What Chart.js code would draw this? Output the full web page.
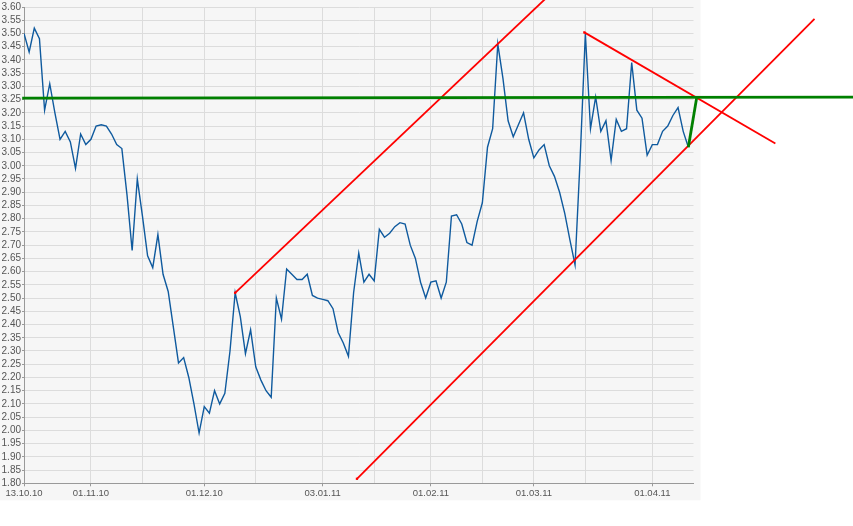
<!DOCTYPE html>
<html>
<head>
<meta charset="utf-8">
<title>Kursverlauf</title>
<script src="https://cdn.jsdelivr.net/npm/chart.js@4.4.1/dist/chart.umd.min.js"></script>
<style>
  html, body { margin: 0; padding: 0; background: #ffffff; }
  #wrap { width: 853px; height: 526px; }
</style>
</head>
<body>
<div id="wrap"><canvas id="priceChart" width="853" height="526"></canvas></div>
<script>
/*
  Price history 13.10.10 - 13.04.11 (one point per trading day)
  with hand drawn trend lines on top.
*/

// closing prices, index = trading day
const prices = [
  3.50, 3.43, 3.52, 3.48, 3.21, 3.31, 3.20, 3.10, 3.13, 3.09,
  2.99, 3.12, 3.08, 3.10, 3.15, 3.155, 3.15, 3.12, 3.08, 3.065,
  2.89, 2.68, 2.95, 2.81, 2.66, 2.615, 2.74, 2.59, 2.525, 2.39,
  2.255, 2.275, 2.20, 2.10, 1.99, 2.09, 2.065, 2.15, 2.10, 2.14,
  2.30, 2.52, 2.43, 2.29, 2.38, 2.24, 2.19, 2.15, 2.125, 2.50,
  2.42, 2.61, 2.59, 2.57, 2.57, 2.59, 2.51, 2.50, 2.495, 2.49,
  2.46, 2.37, 2.33, 2.28, 2.52, 2.67, 2.56, 2.59, 2.565, 2.76,
  2.73, 2.745, 2.77, 2.785, 2.78, 2.70, 2.65, 2.56, 2.50, 2.56,
  2.565, 2.50, 2.56, 2.81, 2.815, 2.78, 2.71, 2.70, 2.79, 2.86,
  3.07, 3.14, 3.46, 3.33, 3.17, 3.11, 3.155, 3.20, 3.10, 3.03,
  3.06, 3.08, 3.00, 2.96, 2.90, 2.82, 2.72, 2.625, 3.03, 3.50,
  3.14, 3.26, 3.13, 3.17, 3.02, 3.175, 3.13, 3.14, 3.39, 3.21,
  3.18, 3.04, 3.08, 3.08, 3.13, 3.15, 3.19, 3.22, 3.13, 3.07
];

// labelled dates (trading day index -> label)
const tickIdx    = [0, 13, 35, 58, 79, 99, 122];
const tickLabels = ["13.10.10", "01.11.10", "01.12.10", "03.01.11", "01.02.11", "01.03.11", "01.04.11"];
// unlabelled mid-month grid lines
const midIdx = [23, 45, 68, 89, 109];

// trend lines: [trading day, price] end points
const upperTrend = [[41, 2.52], [102, 3.645]];
const lowerTrend = [[64.65, 1.817], [153.5, 3.555]];
const fallTrend  = [[108.8, 3.504], [145.9, 3.084]];
const levelLine  = [[-0.35, 3.2555], [161.1, 3.2595]];
const jumpLine   = [[129, 3.07], [130.6, 3.255]];

const yMin = 1.80, yMax = 3.60, yStep = 0.05;
const xMax = 130;

function toXY(arr) {
  return arr.map(p => ({ x: p[0], y: p[1] }));
}

function trend(points, color, width, marker) {
  return {
    data: toXY(points),
    borderColor: color,
    backgroundColor: color,
    borderWidth: width,
    pointRadius: marker ? 1.6 : 0,
    pointStyle: "rect",
    pointBorderWidth: 0,
    clip: false,
    order: 2
  };
}

const panelBackground = {
  id: "panelBackground",
  beforeDraw(chart) {
    const a = chart.chartArea;
    const ctx = chart.ctx;
    ctx.save();
    ctx.fillStyle = "#f6f6f6";
    ctx.fillRect(0, 0, a.right + 7, a.bottom + 17);
    ctx.restore();
  }
};

const green = { order: 1 };

new Chart(document.getElementById("priceChart"), {
  type: "line",
  data: {
    datasets: [
      {
        data: prices.map((v, i) => ({ x: i, y: v })),
        borderColor: "#0f5a9e",
        borderWidth: 1.4,
        pointRadius: 0,
        tension: 0,
        order: 3
      },
      trend(upperTrend, "#ff0000", 1.8, true),
      trend(lowerTrend, "#ff0000", 1.8, true),
      trend(fallTrend, "#ff0000", 1.8, true),
      Object.assign(trend(levelLine, "#008000", 2.8, false), green),
      Object.assign(trend(jumpLine, "#008000", 2.8, false), green)
    ]
  },
  options: {
    responsive: false,
    animation: false,
    layout: { padding: { left: 0, right: 159.5, top: 6, bottom: 25.7 } },
    plugins: {
      legend: { display: false },
      tooltip: { enabled: false }
    },
    scales: {
      x: {
        type: "linear",
        min: 0,
        max: xMax,
        afterBuildTicks: function(axis) {
          axis.ticks = tickIdx.concat(midIdx).sort((a, b) => a - b).map(v => ({ value: v }));
        },
        afterFit: function(axis) { axis.height = 17; },
        ticks: {
          autoSkip: false,
          maxRotation: 0,
          padding: 1,
          color: "#555555",
          font: { family: "'Liberation Sans', Arial, sans-serif", size: 9.5 },
          callback: function(value) {
            const k = tickIdx.indexOf(value);
            return k >= 0 ? tickLabels[k] : "";
          }
        },
        grid: {
          color: "#dcdcdc",
          lineWidth: 1,
          tickLength: 3,
          tickColor: function(c) {
            return c.tick && tickIdx.indexOf(c.tick.value) >= 0 ? "#999999" : "rgba(0,0,0,0)";
          }
        },
        border: { color: "#999999" }
      },
      y: {
        min: yMin,
        max: yMax,
        afterFit: function(axis) { axis.width = 24; },
        ticks: {
          stepSize: yStep,
          maxTicksLimit: 50,
          autoSkip: false,
          padding: 1,
          color: "#555555",
          font: { family: "'Liberation Sans', Arial, sans-serif", size: 10 },
          callback: function(value) { return value.toFixed(2); }
        },
        grid: {
          color: "#dcdcdc",
          tickLength: 2,
          tickColor: "#999999"
        },
        border: { color: "#999999" }
      }
    }
  },
  plugins: [panelBackground]
});
</script>
</body>
</html>
